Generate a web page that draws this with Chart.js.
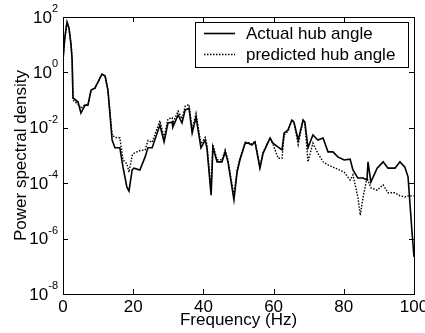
<!DOCTYPE html>
<html>
<head>
<meta charset="utf-8">
<script src="https://cdn.jsdelivr.net/npm/chart.js@4"></script>
<style>
  html, body { margin: 0; padding: 0; background: #fff; }
  #wrap { width: 425px; height: 333px; }
</style>
</head>
<body>
<div id="wrap"><canvas id="chart" width="425" height="333"></canvas></div>
<script>
// values (Hz, power spectral density)
const freqActual = [0, 0.5, 1.14, 1.7, 2.3, 2.6, 2.85, 4.3, 5.1, 6.3, 7.1, 8.0, 9.1, 11.1, 12.0, 12.8, 14.0, 14.8, 16.2, 17.1, 18.2, 18.8, 19.7, 20.2, 21.9, 23.4, 24.2, 25.4, 27.6, 28.8, 29.9, 31.1, 31.3, 32.8, 33.9, 34.8, 35.9, 36.8, 37.9, 39.3, 40.5, 41.0, 42.2, 42.7, 43.9, 45.3, 46.2, 47.0, 48.7, 49.6, 50.4, 51.9, 52.7, 53.8, 54.7, 56.1, 57.0, 59.0, 59.8, 61.3, 62.4, 63.0, 64.1, 65.2, 65.8, 67.0, 68.4, 68.9, 69.8, 71.2, 72.6, 74.1, 75.5, 76.9, 78.3, 80.1, 81.8, 82.6, 84.0, 85.5, 86.6, 86.9, 87.7, 89.5, 91.2, 92.6, 94.6, 96.0, 97.4, 98.3, 99.4, 100];
const psdActual = [2.8, 17, 66, 40, 9.8, 2.8, 0.12, 0.085, 0.034, 0.066, 0.066, 0.23, 0.27, 0.87, 0.74, 0.23, 0.0036, 0.0019, 0.0019, 3.8e-4, 7.2e-5, 5.2e-5, 3.0e-4, 3.5e-4, 3.0e-4, 8.9e-4, 1.9e-3, 1.9e-3, 0.0126, 0.0031, 0.0149, 0.016, 0.0107, 0.029, 0.0149, 0.044, 0.051, 0.0064, 0.0245, 0.0019, 0.0036, 0.0019, 3.7e-5, 0.0020, 5.9e-4, 5.9e-4, 0.00135, 5.9e-4, 2.5e-5, 2.5e-4, 6.9e-4, 0.0028, 0.0028, 0.0024, 0.0031, 3.5e-4, 0.0012, 0.0043, 0.0028, 0.0020, 0.0016, 0.0065, 0.0083, 0.019, 0.016, 0.0036, 0.019, 0.016, 0.0019, 0.0055, 0.0036, 0.0043, 0.00135, 0.00135, 8.9e-4, 6.9e-4, 7.4e-4, 3.0e-4, 1.55e-4, 1.55e-4, 1.3e-4, 5.9e-4, 1.1e-4, 3.5e-4, 5.9e-4, 3.5e-4, 3.5e-4, 5.9e-4, 3.8e-4, 1.7e-4, 2.0e-6, 2.2e-7];

const freqPred = [0, 0.5, 1.14, 1.7, 2.3, 2.6, 2.85, 4.3, 5.1, 6.3, 7.1, 8.0, 9.1, 11.1, 12.0, 12.8, 14.0, 14.8, 16.2, 17.1, 18.2, 18.8, 19.7, 20.2, 21.9, 23.4, 24.2, 25.4, 27.6, 28.8, 29.9, 31.1, 31.3, 32.8, 33.9, 34.8, 35.9, 36.8, 37.9, 39.3, 40.5, 41.0, 42.2, 42.7, 43.9, 45.3, 46.2, 47.0, 48.7, 49.6, 50.4, 51.9, 52.7, 53.8, 54.7, 56.1, 57.0, 59.0, 59.8, 61.3, 62.4, 63.0, 64.1, 65.2, 65.8, 67.0, 68.4, 68.9, 69.8, 71.2, 72.6, 74.1, 75.5, 76.9, 78.3, 80.1, 81.8, 82.6, 84.0, 84.7, 85.5, 86.6, 87.7, 89.5, 91.2, 92.6, 94.6, 96.0, 97.4, 98.3, 100];
const psdPred = [2.8, 17, 66, 40, 9.8, 2.8, 0.10, 0.07, 0.05, 0.07, 0.066, 0.23, 0.27, 0.87, 0.74, 0.23, 0.0055, 0.0045, 0.0043, 7e-4, 5e-4, 2.5e-4, 1.0e-3, 0.0012, 0.0015, 0.0016, 0.0035, 0.003, 0.018, 0.0045, 0.021, 0.023, 0.015, 0.04, 0.021, 0.06, 0.07, 0.009, 0.033, 0.0026, 0.0045, 0.0025, 6e-5, 0.0025, 7e-4, 7e-4, 0.0016, 7e-4, 3.5e-5, 3.0e-4, 8e-4, 0.003, 0.003, 0.0026, 0.0033, 4e-4, 0.0013, 0.0043, 0.0026, 8e-4, 8e-4, 0.0055, 0.0075, 0.019, 0.016, 0.0025, 0.019, 0.015, 5.9e-4, 0.0028, 0.0012, 5.9e-4, 4.6e-4, 3.8e-4, 3.2e-4, 2.5e-4, 1.3e-4, 2.0e-4, 3.2e-5, 7e-6, 3.2e-5, 1.55e-4, 6.8e-5, 5.6e-5, 8.7e-5, 4.5e-5, 4.5e-5, 3.5e-5, 3.2e-5, 3.5e-5, 3.5e-5];

const xTicks = [0, 20, 40, 60, 80, 100];
const yTickExps = [2, 0, -2, -4, -6, -8];
const seriesLabels = ['Actual hub angle', 'predicted hub angle'];
const xTitle = 'Frequency (Hz)';
const yTitle = 'Power spectral density';

const FONT = '"Liberation Sans", Arial, sans-serif';

function pts(xs, ys) {
  return xs.map((x, i) => ({ x, y: ys[i] }));
}

// matlab style box, inward ticks, superscript log labels, legend
const axesPlugin = {
  id: 'matlabAxes',
  afterDraw(chart) {
    const { ctx, chartArea: a, scales } = chart;
    const xs = scales.x, ys = scales.y;
    const tl = 5;
    ctx.save();
    ctx.strokeStyle = '#000';
    ctx.lineWidth = 1;
    ctx.strokeRect(Math.round(a.left) + 0.5, Math.round(a.top) + 0.5,
      Math.round(a.right - a.left), Math.round(a.bottom - a.top));

    ctx.beginPath();
    xTicks.forEach(v => {
      const px = Math.round(xs.getPixelForValue(v)) + 0.5;
      ctx.moveTo(px, a.bottom); ctx.lineTo(px, a.bottom - tl);
      ctx.moveTo(px, a.top); ctx.lineTo(px, a.top + tl);
    });
    yTickExps.forEach(e => {
      const py = Math.round(ys.getPixelForValue(Math.pow(10, e))) + 0.5;
      ctx.moveTo(a.left, py); ctx.lineTo(a.left + tl, py);
      ctx.moveTo(a.right, py); ctx.lineTo(a.right - tl, py);
    });
    ctx.stroke();

    ctx.fillStyle = '#000';
    ctx.font = '17px ' + FONT;
    ctx.textAlign = 'center';
    ctx.textBaseline = 'middle';
    xTicks.forEach(v => {
      ctx.fillText(String(v), xs.getPixelForValue(v), a.bottom + 13);
    });

    yTickExps.forEach(e => {
      const py = ys.getPixelForValue(Math.pow(10, e));
      ctx.font = '11px ' + FONT;
      const sup = String(e);
      const sw = ctx.measureText(sup).width;
      ctx.textAlign = 'left';
      const supX = a.left - 5 - sw;
      ctx.fillText(sup, supX, py - 8);
      ctx.font = '17px ' + FONT;
      ctx.textAlign = 'right';
      ctx.fillText('10', supX, py + 1);
    });

    ctx.textAlign = 'center';
    ctx.fillText(xTitle, (a.left + a.right) / 2, a.bottom + 26);
    ctx.save();
    ctx.translate(21, (a.top + a.bottom) / 2);
    ctx.rotate(-Math.PI / 2);
    ctx.fillText(yTitle, 0, 0);
    ctx.restore();

    // legend box
    const lx = 195, ly = 22, lw = 213, lh = 45;
    ctx.fillStyle = '#fff';
    ctx.fillRect(lx, ly, lw, lh);
    ctx.strokeRect(lx + 0.5, ly + 0.5, lw, lh);
    chart.data.datasets.forEach((ds, i) => {
      const y = ly + 11 + i * 21;
      ctx.beginPath();
      ctx.lineWidth = ds.borderWidth;
      ctx.setLineDash(ds.borderDash || []);
      ctx.strokeStyle = ds.borderColor;
      ctx.moveTo(204, y + 0.5); ctx.lineTo(235, y + 0.5);
      ctx.stroke();
      ctx.setLineDash([]);
      ctx.fillStyle = '#000';
      ctx.textAlign = 'left';
      ctx.fillText(ds.label, 246, y + 1);
    });
    ctx.restore();
  }
};

new Chart(document.getElementById('chart'), {
  type: 'scatter',
  plugins: [axesPlugin],
  data: {
    datasets: [
      {
        label: seriesLabels[0],
        data: pts(freqActual, psdActual),
        showLine: true,
        borderColor: '#000',
        borderWidth: 1.6,
        pointRadius: 0,
        tension: 0,
      },
      {
        label: seriesLabels[1],
        data: pts(freqPred, psdPred),
        showLine: true,
        borderColor: '#000',
        borderWidth: 1.4,
        borderDash: [1.5, 1.5],
        pointRadius: 0,
        tension: 0,
      }
    ]
  },
  options: {
    responsive: false,
    animation: false,
    events: [],
    layout: { padding: { left: 63, right: 11, top: 17, bottom: 39 } },
    scales: {
      x: { type: 'linear', min: 0, max: 100, display: false },
      y: { type: 'logarithmic', min: 1e-8, max: 1e2, display: false },
    },
    plugins: {
      legend: { display: false },
      tooltip: { enabled: false },
    },
  }
});
</script>
</body>
</html>
